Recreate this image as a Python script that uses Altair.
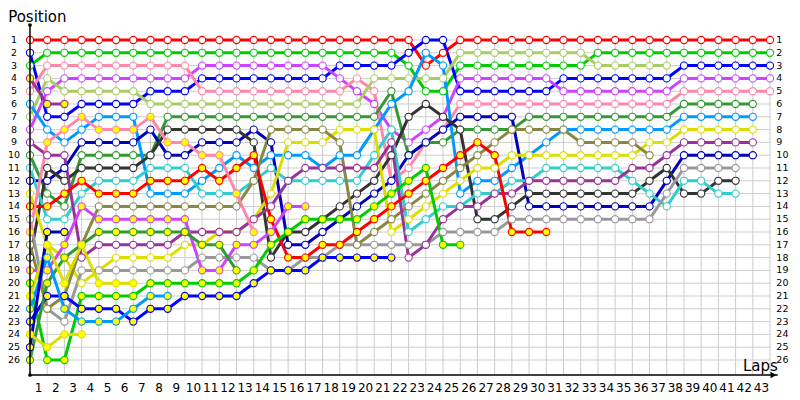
import altair as alt
import pandas as pd

# ---------------- data ----------------
driver_ids = ["R1", "G1", "B1", "V1", "P1", "LG1", "DG1", "LB1", "DB1", "BK1", "C1", "Y1",
              "GR1", "O1", "DP1", "R2", "G2", "B2", "V2", "P2", "DG2", "LB2", "Y2", "DP2",
              "X25", "X24"]

line_colors = ["#ff0000", "#00cc00", "#0000ff", "#cc44ff", "#ff88aa", "#aacc66", "#339933",
               "#0099ff", "#0000bb", "#333333", "#33cccc", "#dddd00", "#999999", "#888844",
               "#993399", "#ff0000", "#00cc00", "#0000ff", "#cc44ff", "#ff88aa", "#339933",
               "#0099ff", "#dddd00", "#993399", "#0000bb", "#dddd00"]

marker_fill = ["#ffffff"] * 15 + ["#ffff00"] * 11

R1 = [1, 1, 1, 1, 1, 1, 1, 1, 1, 1, 1, 1, 1, 1, 1, 1, 1, 1, 1, 1, 1, 1, 1, 3, 2, 1, 1, 1, 1, 1,
      1, 1, 1, 1, 1, 1, 1, 1, 1, 1, 1, 1, 1, 1]
G1 = [3, 2, 2, 2, 2, 2, 2, 2, 2, 2, 2, 2, 2, 2, 2, 2, 2, 2, 2, 2, 2, 2, 3, 5, 5, 3, 3, 3, 3, 3,
      3, 3, 3, 2, 2, 2, 2, 2, 2, 2, 2, 2, 2, 2]
B1 = [2, 7, 7, 6, 6, 6, 6, 5, 5, 5, 4, 4, 4, 4, 4, 4, 4, 4, 3, 3, 3, 3, 2, 1, 1, 5, 5, 5, 5, 5,
      5, 4, 4, 4, 4, 4, 4, 4, 3, 3, 3, 3, 3, 3]
V1 = [8, 5, 4, 4, 4, 4, 4, 4, 4, 4, 3, 3, 3, 3, 3, 3, 3, 3, 4, 5, 6, 8, 9, 8, 7, 4, 4, 4, 4, 4,
      4, 5, 5, 5, 5, 5, 5, 5, 4, 4, 4, 4, 4, 4]
P1 = [5, 3, 3, 3, 3, 3, 3, 3, 3, 3, 5, 5, 5, 5, 5, 5, 5, 5, 5, 4, 5, 12, 11, 9, 8, 6, 6, 6, 6, 6,
      6, 6, 6, 6, 6, 6, 6, 6, 5, 5, 5, 5, 5, 5]
LG1 = [7, 4, 5, 5, 5, 5, 5, 6, 6, 6, 6, 6, 6, 6, 6, 6, 6, 6, 6, 6, 4, 4, 4, 4, 4, 2, 2, 2, 2, 2,
       2, 2, 2, 3, 3, 3, 3, 3]
DG1 = [10, 13, 14, 10, 10, 10, 10, 10, 7, 7, 7, 7, 7, 7, 7, 7, 7, 7, 7, 7, 7, 5, 10, 9, 9, 8, 8, 8,
       8, 7, 7, 7, 7, 7, 7, 7, 7, 7, 6, 6, 6, 6, 6]
LB1 = [6, 8, 9, 8, 7, 7, 7, 13, 13, 13, 12, 11, 10, 11, 10, 10, 10, 11, 10, 10, 8, 6, 5, 2, 3, 13,
       12, 12, 11, 10, 9, 8, 8, 8, 8, 8, 8, 8, 7, 7, 7, 7, 7]
DB1 = [12, 12, 11, 9, 9, 9, 9, 8, 10, 10, 9, 9, 9, 8, 9, 17, 17, 16, 15, 14, 13, 12, 10, 9, 8, 7,
       7, 7, 7, 14, 14, 14, 14, 14, 14, 14, 14, 12, 10, 10, 10, 10, 10]
BK1 = [18, 11, 12, 11, 11, 11, 11, 10, 8, 8, 8, 8, 8, 9, 18, 16, 16, 15, 14, 13, 12, 10, 7, 6, 7,
       8, 15, 15, 14, 13, 13, 13, 13, 13, 13, 13, 12, 11, 13, 13, 12, 12]
C1 = [11, 15, 15, 13, 12, 12, 12, 11, 11, 11, 13, 13, 13, 12, 11, 12, 12, 12, 12, 12, 10, 8, 16, 15,
      14, 14, 13, 13, 12, 12, 11, 11, 11, 11, 11, 12, 13, 14, 12, 12, 13, 13]
Y1 = [13, 17, 18, 20, 19, 18, 18, 18, 18, 17, 17, 16, 16, 15, 13, 9, 9, 9, 8, 8, 8, 16, 15, 14, 13,
      12, 11, 11, 10, 10, 10, 10, 10, 10, 10, 10, 9, 9, 8, 8, 8, 8, 8]
GR1 = [15, 22, 23, 19, 19, 19, 19, 19, 19, 19, 18, 18, 18, 18, 19, 19, 18, 18, 17, 17, 17, 17, 17,
       17, 16, 16, 16, 16, 15, 15, 15, 15, 15, 15, 15, 15, 15, 13, 11, 11, 11, 11]
O1 = [17, 22, 21, 17, 14, 14, 14, 14, 14, 14, 14, 14, 14, 12, 8, 8, 8, 8, 9, 17, 16, 15, 14, 13, 12,
      11, 10, 9, 8, 8, 8, 8, 9, 9, 9, 9, 10]
DP1 = [9, 10, 10, 18, 17, 17, 17, 17, 17, 16, 16, 16, 16, 15, 14, 12, 11, 11, 11, 11, 11, 9, 18, 17,
       15, 14, 14, 13, 13, 12, 12, 12, 12, 12, 12, 11, 11, 10, 9, 9, 9, 9, 9]
R2 = [14, 14, 13, 12, 13, 13, 13, 12, 12, 12, 11, 12, 11, 10, 15, 18, 18, 17, 17, 16, 15, 14, 13, 12,
      11, 10, 9, 10, 16, 16, 16]
G2 = [20, 26, 26, 21, 21, 21, 21, 20, 20, 20, 20, 20, 20, 19, 17, 16, 15, 15, 15, 15, 14, 13, 12, 11,
      17, 17]
B2 = [23, 21, 21, 22, 22, 22, 23, 22, 22, 21, 21, 21, 21, 20, 19, 19, 19, 18, 18, 18, 18, 18]
V2 = [19, 19, 17, 14, 15, 15, 15, 15, 15, 15, 19, 19, 17, 17, 16, 14, 14]
P2 = [16, 9, 8, 7, 8, 8, 8, 7, 9, 9, 10, 10, 13, 16]
DG2 = [26, 20, 18, 17, 16, 16, 16, 16, 16, 16, 17, 17, 19]
LB2 = [22, 18, 22, 23, 23, 23, 22, 21, 21]
Y2 = [21, 17, 20, 17, 20, 20, 20]
DP2 = [4, 6, 6]
X25 = [25, 16, 16]
X24 = [24, 25, 24, 24]

series = [R1, G1, B1, V1, P1, LG1, DG1, LB1, DB1, BK1, C1, Y1, GR1, O1, DP1,
          R2, G2, B2, V2, P2, DG2, LB2, Y2, DP2, X25, X24]

lap_labels = [str(i) for i in range(1, 44)]
pos_labels = [str(i) for i in range(1, 27)]

# ---------------- tables ----------------
rows = []
for k, (d, s) in enumerate(zip(driver_ids, series)):
    for lap, p in enumerate(s):
        rows.append({"driver": d, "lap": lap, "pos": p, "lc": line_colors[k],
                     "fc": marker_fill[k], "k": k})
df = pd.DataFrame(rows)

W, H = 740, 350
Y_TOP, Y_BOT = -0.171875, 27.171875
xs = alt.Scale(domain=[0, 43], range=[0, W], nice=False, zero=False)
ys = alt.Scale(domain=[Y_TOP, Y_BOT], range=[0, H], nice=False, zero=False)

def X(f="lap"):
    return alt.X(f + ":Q", scale=xs, axis=None)

def Y(f="pos"):
    return alt.Y(f + ":Q", scale=ys, axis=None)

hgrid = pd.DataFrame({"pos": list(range(1, 27)), "x0": 0, "x1": 43})
vgrid = pd.DataFrame({"lap": list(range(1, 44)), "y0": 1, "y1": Y_BOT})

hg = alt.Chart(hgrid).mark_rule(color="#cccccc", strokeWidth=1).encode(
    x=alt.X("x0:Q", scale=xs, axis=None), x2="x1:Q", y=Y())
vg = alt.Chart(vgrid).mark_rule(color="#cccccc", strokeWidth=1).encode(
    x=X(), y=alt.Y("y0:Q", scale=ys, axis=None), y2="y1:Q")

axes_df = pd.DataFrame({"x0": [0, 0], "x1": [0, 43.45], "y0": [Y_TOP, Y_BOT], "y1": [Y_BOT, Y_BOT]})
ax = alt.Chart(axes_df).mark_rule(color="#000000", strokeWidth=1.5).encode(
    x=alt.X("x0:Q", scale=xs, axis=None), x2="x1:Q",
    y=alt.Y("y0:Q", scale=ys, axis=None), y2="y1:Q")
dots = alt.Chart(pd.DataFrame({"lap": [0, 0], "pos": [Y_TOP, Y_BOT]})).mark_point(
    shape="circle", filled=True, size=14, color="#000000", opacity=1).encode(x=X(), y=Y())
arrow = alt.Chart(pd.DataFrame({"lap": [43.2], "pos": [Y_BOT]})).mark_point(
    shape="triangle-right", filled=True, size=45, color="#000000", opacity=1).encode(x=X(), y=Y())

lines = alt.Chart(df).mark_line(strokeWidth=3).encode(
    x=X(), y=Y(), color=alt.Color("lc:N", scale=None), detail="driver:N", order="lap:Q")
points = alt.Chart(df).mark_point(shape="circle", filled=True, size=52, strokeWidth=1.1,
                                  opacity=1).encode(
    x=X(), y=Y(), fill=alt.Fill("fc:N", scale=None), stroke=alt.Stroke("lc:N", scale=None))

xlab = pd.DataFrame({"lap": [i + 0.5 for i in range(43)], "t": lap_labels, "pos": 28.15})
xl = alt.Chart(xlab).mark_text(fontSize=12, font="DejaVu Sans", color="#000000",
                               baseline="middle", align="center").encode(x=X(), y=Y(), text="t:N")
ylab_l = pd.DataFrame({"pos": list(range(1, 27)), "t": pos_labels, "lap": -0.93})
yl = alt.Chart(ylab_l).mark_text(fontSize=9.5, font="DejaVu Sans", color="#000000",
                                 baseline="middle", align="center").encode(x=X(), y=Y(), text="t:N")
ylab_r = pd.DataFrame({"pos": list(range(1, 27)), "t": pos_labels, "lap": 43.37})
yr = alt.Chart(ylab_r).mark_text(fontSize=9.5, font="DejaVu Sans", color="#000000",
                                 baseline="middle", align="left").encode(x=X(), y=Y(), text="t:N")

titles = pd.DataFrame({"lap": [-1.27, 41.43], "pos": [-0.4, 26.85], "t": ["Position", "Laps"]})
tt = alt.Chart(titles).mark_text(fontSize=15, font="DejaVu Sans", color="#000000",
                                 baseline="alphabetic", align="left").encode(x=X(), y=Y(), text="t:N")

chart = alt.layer(hg, vg, lines, points, ax, dots, arrow, xl, yl, yr, tt).properties(
    width=W, height=H,
    autosize=alt.AutoSizeParams(type="none"),
    padding={"left": 22, "top": 17, "right": 22, "bottom": 21},
).configure_view(stroke=None)

chart.save("out.html", embed_options={"renderer": "svg", "actions": False})
